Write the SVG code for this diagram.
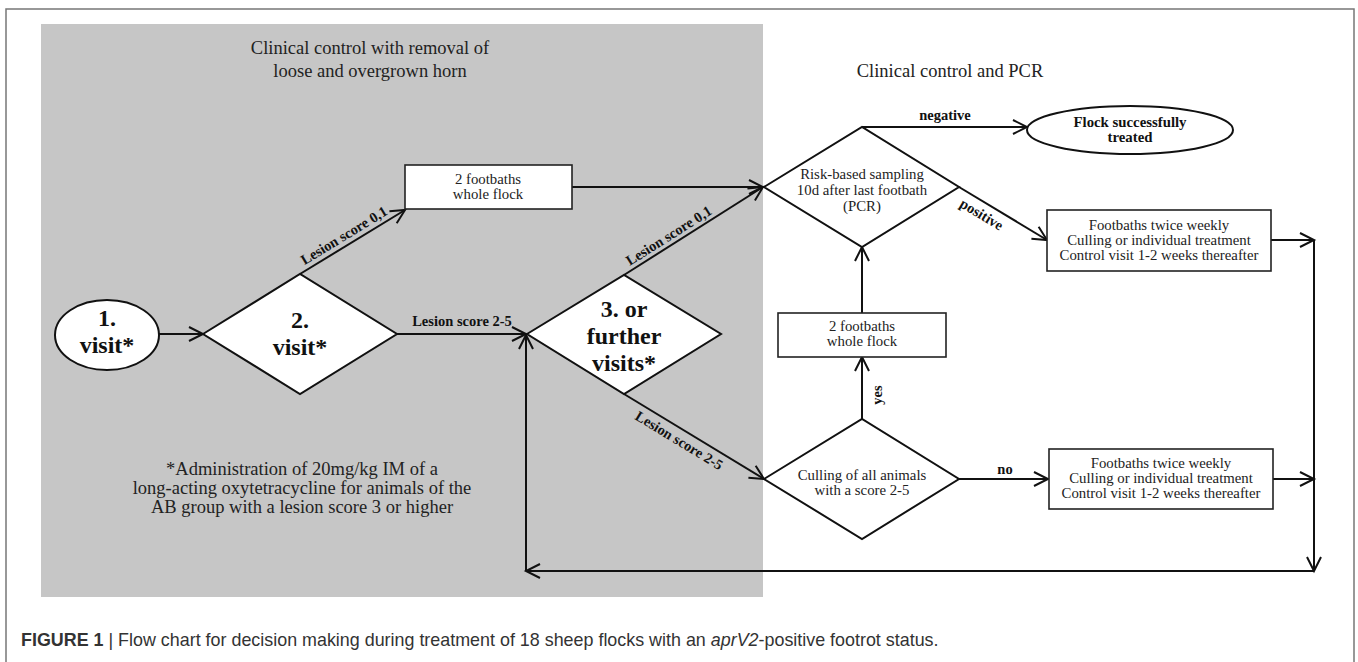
<svg xmlns="http://www.w3.org/2000/svg" width="1358" height="662" viewBox="0 0 1358 662">
<defs>
<marker id="ah" markerUnits="userSpaceOnUse" markerWidth="18" markerHeight="18" refX="15" refY="8" orient="auto">
<path d="M1,1 L15,8 L1,15" fill="none" stroke="#111" stroke-width="2"/>
</marker>
<style>
.ser{font-family:"Liberation Serif","Times New Roman",serif;fill:#222}
.node{font-size:14.8px;text-anchor:middle}
.big{font-size:24px;font-weight:bold;text-anchor:middle;fill:#111}
.lbl{font-size:14.5px;font-weight:bold;text-anchor:middle;fill:#111}
.hdr{font-size:18.5px;text-anchor:middle}
.shape{fill:#fff;stroke:#111;stroke-width:2}
.box{fill:#fff;stroke:#222;stroke-width:1.6}
.con{fill:none;stroke:#111;stroke-width:2}
.cap{font-family:"Liberation Sans",Arial,sans-serif;font-size:17.9px;fill:#333}
</style>
</defs>
<rect x="0" y="0" width="1358" height="662" fill="#fff"/>
<path d="M6,662 L6,9 L1354,9 L1354,662" fill="none" stroke="#777" stroke-width="1.5"/>
<rect x="41" y="24" width="722" height="573" fill="#c6c6c6"/>

<g id="headers" class="ser">
<text class="ser hdr" x="370" y="54">Clinical control with removal of</text>
<text class="ser hdr" x="370" y="77">loose and overgrown horn</text>
<text class="ser hdr" x="950" y="77">Clinical control and PCR</text>
<text class="ser hdr" x="302" y="475">*Administration of 20mg/kg IM of a</text>
<text class="ser hdr" x="302" y="494">long-acting oxytetracycline for animals of the</text>
<text class="ser hdr" x="302" y="513">AB group with a lesion score 3 or higher</text>
</g>

<g id="connectors">
<line class="con" x1="159" y1="334" x2="203" y2="334" marker-end="url(#ah)"/>
<line class="con" x1="300" y1="274" x2="405" y2="210" marker-end="url(#ah)"/>
<line class="con" x1="397" y1="334" x2="526" y2="334" marker-end="url(#ah)"/>
<line class="con" x1="572" y1="187" x2="763" y2="187" marker-end="url(#ah)"/>
<line class="con" x1="624" y1="275" x2="763" y2="187" marker-end="url(#ah)"/>
<line class="con" x1="624" y1="394" x2="764" y2="479" marker-end="url(#ah)"/>
<line class="con" x1="862" y1="127" x2="1027" y2="127" marker-end="url(#ah)"/>
<line class="con" x1="959" y1="187" x2="1047" y2="240" marker-end="url(#ah)"/>
<line class="con" x1="862" y1="313" x2="862" y2="247" marker-end="url(#ah)"/>
<line class="con" x1="862" y1="419" x2="862" y2="357" marker-end="url(#ah)"/>
<line class="con" x1="959" y1="479" x2="1048" y2="479" marker-end="url(#ah)"/>
<line class="con" x1="1271" y1="240" x2="1314" y2="240" marker-end="url(#ah)"/>
<line class="con" x1="1273" y1="479" x2="1314" y2="479" marker-end="url(#ah)"/>
<line class="con" x1="1314" y1="240" x2="1314" y2="571" marker-end="url(#ah)"/>
<line class="con" x1="1314" y1="571" x2="526" y2="571" marker-end="url(#ah)"/>
<line class="con" x1="526" y1="571" x2="526" y2="335" marker-end="url(#ah)"/>
<g class="ser">
<text class="ser lbl" transform="translate(349,244) rotate(-31.4)" x="0" y="-5">Lesion score 0,1</text>
<text class="ser lbl" x="462" y="326">Lesion score 2-5</text>
<text class="ser lbl" transform="translate(674,244) rotate(-32.3)" x="0" y="-5">Lesion score 0,1</text>
<text class="ser lbl" transform="translate(685,431) rotate(31.3)" x="0" y="16">Lesion score 2-5</text>
<text class="ser lbl" x="945" y="120">negative</text>
<text class="ser lbl" transform="translate(988,204) rotate(31.1)" x="0" y="17">positive</text>
<text class="ser lbl" transform="translate(882,395) rotate(-90)" x="0" y="0">yes</text>
<text class="ser lbl" x="1005" y="474">no</text>
</g>
</g>

<g id="visit1">
<ellipse class="shape" cx="107" cy="335" rx="52" ry="35"/>
<text class="ser big" x="107" y="326">1.</text>
<text class="ser big" x="107" y="353">visit*</text>
</g>
<g id="visit2">
<polygon class="shape" points="203,334 300,274 397,334 300,394"/>
<text class="ser big" x="300" y="328">2.</text>
<text class="ser big" x="300" y="355">visit*</text>
</g>
<g id="visit3">
<polygon class="shape" points="527,334 624,275 721,334 624,394"/>
<text class="ser big" x="624" y="317">3. or</text>
<text class="ser big" x="624" y="344">further</text>
<text class="ser big" x="624" y="371">visits*</text>
</g>
<g id="footbaths1">
<rect class="box" x="405" y="165" width="167" height="44"/>
<text class="ser node" x="488" y="184">2 footbaths</text>
<text class="ser node" x="488" y="199">whole flock</text>
</g>
<g id="sampling">
<polygon class="shape" points="764,187 862,127 959,187 862,247"/>
<text class="ser node" x="862" y="179">Risk-based sampling</text>
<text class="ser node" x="862" y="195">10d after last footbath</text>
<text class="ser node" x="862" y="211">(PCR)</text>
</g>
<g id="success">
<ellipse class="shape" cx="1130" cy="130" rx="103" ry="24"/>
<text class="ser node" style="font-weight:bold;fill:#111" x="1130" y="127">Flock successfully</text>
<text class="ser node" style="font-weight:bold;fill:#111" x="1130" y="142">treated</text>
</g>
<g id="positiveBox">
<rect class="box" x="1047" y="210" width="224" height="61"/>
<text class="ser node" x="1159" y="230">Footbaths twice weekly</text>
<text class="ser node" x="1159" y="245">Culling or individual treatment</text>
<text class="ser node" x="1159" y="260">Control visit 1-2 weeks thereafter</text>
</g>
<g id="footbaths2">
<rect class="box" x="778" y="313" width="168" height="44"/>
<text class="ser node" x="862" y="331">2 footbaths</text>
<text class="ser node" x="862" y="346">whole flock</text>
</g>
<g id="culling">
<polygon class="shape" points="764,479 862,419 959,479 862,539"/>
<text class="ser node" x="862" y="480">Culling of all animals</text>
<text class="ser node" x="862" y="495">with a score 2-5</text>
</g>
<g id="noBox">
<rect class="box" x="1049" y="449" width="224" height="60"/>
<text class="ser node" x="1161" y="468">Footbaths twice weekly</text>
<text class="ser node" x="1161" y="483">Culling or individual treatment</text>
<text class="ser node" x="1161" y="498">Control visit 1-2 weeks thereafter</text>
</g>

<text class="cap" x="21" y="646"><tspan font-weight="bold">FIGURE 1</tspan> | Flow chart for decision making during treatment of 18 sheep flocks with an <tspan font-style="italic">aprV2</tspan>-positive footrot status.</text>
</svg>
